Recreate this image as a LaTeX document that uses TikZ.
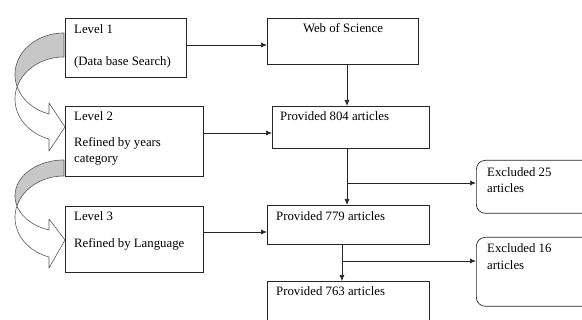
\documentclass[tikz,border=0pt]{standalone}
\usepackage{fontspec}
\setmainfont{Liberation Serif}
\usetikzlibrary{arrows.meta}
\begin{document}
\begin{tikzpicture}[x=1pt,y=-1pt,
  box/.style={draw=black!85,line width=0.7pt,inner sep=0pt,anchor=north west},
  rbox/.style={box,rounded corners=9pt},
  txt/.style={inner sep=0pt,anchor=base west,font=\fontsize{12.8}{15}\selectfont},
  arr/.style={draw=black!85,line width=0.7pt,-{Latex[length=6pt,width=5pt]}},
  back/.style={draw=black!65,line width=0.6pt,fill=black!22,line join=round},
  front/.style={draw=black!65,line width=0.6pt,fill=white,line join=round}]
\clip (0,0) rectangle (582,320);
% boxes
\node[box,minimum width=121pt,minimum height=59pt] (l1) at (65,18) {};
\node[box,minimum width=138pt,minimum height=70pt] (l2) at (65,106) {};
\node[box,minimum width=138pt,minimum height=66pt] (l3) at (65,206) {};
\node[box,minimum width=151pt,minimum height=46pt] (wos) at (267,18) {};
\node[box,minimum width=157pt,minimum height=42pt] (p804) at (272,106) {};
\node[box,minimum width=162pt,minimum height=39pt] (p779) at (267,205) {};
\node[box,minimum width=162pt,minimum height=50pt] (p763) at (267,281) {};
\node[rbox,minimum width=116pt,minimum height=53pt] (ex25) at (476,160) {};
\node[rbox,minimum width=116pt,minimum height=69pt] (ex16) at (476,237) {};
% texts
\node[txt] (t1a) at (74,34) {Level 1};
\node[txt] (t1b) at (74,66) {(Data base Search)};
\node[txt] (t2a) at (74,121) {Level 2};
\node[txt] (t2b) at (74,147) {Refined by years};
\node[txt] (t2c) at (74,163) {category};
\node[txt] (t3a) at (74,221) {Level 3};
\node[txt] (t3b) at (74,248) {Refined by Language};
\node[txt,anchor=base] (tw) at (343,33) {Web of Science};
\node[txt] (tp1) at (280,121) {Provided 804 articles};
\node[txt] (tp2) at (276,221) {Provided 779 articles};
\node[txt] (tp3) at (276,296) {Provided 763 articles};
\node[txt] (te1a) at (487,177) {Excluded 25};
\node[txt] (te1b) at (487,193) {articles};
\node[txt] (te2a) at (487,253) {Excluded 16};
\node[txt] (te2b) at (487,270) {articles};
% connectors
\draw[arr] (l1.east |- 0,45) -- (wos.west |- 0,45);
\draw[arr] (wos.south -| 347,0) -- (p804.north -| 347,0);
\draw[arr] (l2.east |- 0,133) -- (p804.west |- 0,133);
\draw[arr] (p804.south -| 347,0) -- (p779.north -| 347,0);
\coordinate (j1) at (347,183);
\draw[arr] (j1) -- (ex25.west |- j1);
\draw[arr] (l3.east |- 0,232) -- (p779.west |- 0,232);
\draw[arr] (p779.south -| 342,0) -- (p763.north -| 342,0);
\coordinate (j2) at (342,261);
\draw[arr] (j2) -- (ex16.west |- j2);
% curved arrow 1
\filldraw[back] plot[domain=90:197.06,samples=40,variable=\t] ({64+49*cos(\t)},{74.5-41.5*sin(\t)})
  -- plot[domain=162.94:90,samples=40,variable=\t] ({64+49*cos(\t)},{99-42*sin(\t)}) -- cycle;
\filldraw[front] plot[domain=162.94:252.17,samples=40,variable=\t] ({64+49*cos(\t)},{99-42*sin(\t)})
  -- (49,151) -- (65,127) -- (49,103)
  -- plot[domain=252.17:197.06,samples=40,variable=\t] ({64+49*cos(\t)},{74.5-41.5*sin(\t)}) -- cycle;
% curved arrow 2
\filldraw[back] plot[domain=90:196.24,samples=40,variable=\t] ({64+49*cos(\t)},{195.86-35.86*sin(\t)})
  -- plot[domain=163.76:90,samples=40,variable=\t] ({64+49*cos(\t)},{217.5-41.5*sin(\t)}) -- cycle;
\filldraw[front] plot[domain=163.76:252.17,samples=40,variable=\t] ({64+49*cos(\t)},{217.5-41.5*sin(\t)})
  -- (49,268) -- (65,240) -- (49,219)
  -- plot[domain=252.17:196.24,samples=40,variable=\t] ({64+49*cos(\t)},{195.86-35.86*sin(\t)}) -- cycle;
\end{tikzpicture}
\end{document}
